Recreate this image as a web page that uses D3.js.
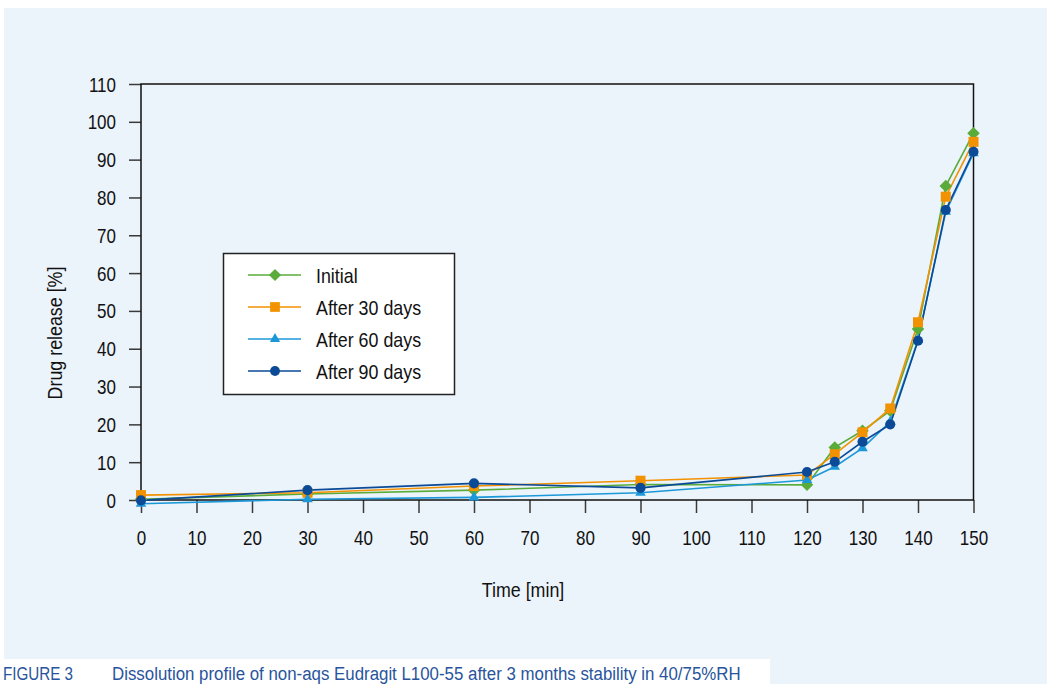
<!DOCTYPE html>
<html><head><meta charset="utf-8">
<script src="https://cdn.jsdelivr.net/npm/d3@7"></script>
<style>
body{margin:0;background:#fff}
svg{display:block}
text{font-family:"Liberation Sans",Arial,Helvetica,sans-serif;fill:#111}
</style>
</head><body>
<svg id="chart" width="1047" height="684"></svg>
<script>
// ---- data ----
const times = [0, 30, 60, 90, 120, 125, 130, 135, 140, 145, 150];
const initial = [0.2, 1.6, 2.6, 4.1, 4.0, 13.9, 18.3, 23.6, 45.2, 83.0, 97.0];
const after30 = [1.3, 1.9, 3.7, 5.1, 6.6, 12.1, 17.9, 24.2, 47.0, 80.2, 94.7];
const after60 = [-1.0, 0.2, 0.7, 1.9, 5.3, 8.8, 13.7, 20.7, 42.3, 76.2, 91.7];
const after90 = [-0.1, 2.6, 4.4, 3.2, 7.4, 10.1, 15.4, 20.0, 42.1, 76.7, 92.1];
const seriesNames = ["Initial", "After 30 days", "After 60 days", "After 90 days"];
const seriesColors = ["#5aac3a", "#f39200", "#1c98d8", "#0b4a96"];
const xTickValues = [0, 10, 20, 30, 40, 50, 60, 70, 80, 90, 100, 110, 120, 130, 140, 150];
const yTickValues = [0, 10, 20, 30, 40, 50, 60, 70, 80, 90, 100, 110];
const xTitle = "Time [min]";
const yTitle = "Drug release [%]";
const figLabel = "FIGURE 3";
const figCaption = "Dissolution profile of non-aqs Eudragit L100-55 after 3 months stability in 40/75%RH";

const seriesValues = [initial, after30, after60, after90];
const symbols = [d3.symbolSquare, d3.symbolSquare, d3.symbolTriangle, d3.symbolCircle];
const symSizes = [78, 100, 48, 80];
const symRot = [45, 0, 0, 0];

const svg = d3.select("#chart");
const S = 0.85; // horizontal condensing of the font

function condense(sel, s) {
  sel.each(function () {
    const t = d3.select(this);
    const x = +t.attr("x") || 0, y = +t.attr("y") || 0;
    t.attr("x", 0).attr("y", 0).attr("transform", `translate(${x},${y}) scale(${s},1)`);
  });
}

// background panel
const bg = "#ebf3fb";
svg.append("rect").attr("x", 0).attr("y", 0).attr("width", 1047).attr("height", 684).attr("fill", "#fff");
svg.append("rect").attr("x", 4).attr("y", 8).attr("width", 1043).attr("height", 651).attr("fill", bg);
svg.append("rect").attr("x", 770).attr("y", 650).attr("width", 277).attr("height", 34).attr("fill", bg);

const L = 141, R = 973.5, T = 84, B = 500;
const x = d3.scaleLinear().domain([0, 150]).range([L, R]);
const y = d3.scaleLinear().domain([0, 110]).range([B, T]);

// axes
const xAxis = svg.append("g").attr("transform", `translate(0,${B})`)
  .call(d3.axisBottom(x).tickValues(xTickValues).tickSize(13).tickPadding(18).tickFormat(d3.format("d")));
const yAxis = svg.append("g").attr("transform", `translate(${L},0)`)
  .call(d3.axisLeft(y).tickValues(yTickValues).tickSize(12).tickPadding(13).tickFormat(d3.format("d")));
[xAxis, yAxis].forEach(a => {
  a.select(".domain").remove();
  a.selectAll(".tick line").attr("stroke", "#3a3a3a").attr("stroke-width", 1.5);
  a.selectAll(".tick text").attr("font-size", 20).attr("fill", "#111")
    .style("font-family", '"Liberation Sans", Arial, sans-serif');
});
xAxis.selectAll(".tick text").attr("dy", "0.72em");
yAxis.selectAll(".tick text").attr("dy", "0.35em");
condense(xAxis.selectAll(".tick text"), S);
condense(yAxis.selectAll(".tick text"), S);

// frame
svg.append("rect").attr("x", L).attr("y", T).attr("width", R - L).attr("height", B - T)
  .attr("fill", "none").attr("stroke", "#111").attr("stroke-width", 1.5);

// lines and markers
const line = d3.line().x((d, i) => x(times[i])).y(d => y(d));
seriesValues.forEach((vals, k) => {
  svg.append("path").datum(vals).attr("d", line)
    .attr("fill", "none").attr("stroke", seriesColors[k]).attr("stroke-width", 1.6);
});
seriesValues.forEach((vals, k) => {
  svg.append("g").selectAll("path").data(vals).join("path")
    .attr("d", d3.symbol().type(symbols[k]).size(symSizes[k]))
    .attr("transform", (d, i) => `translate(${x(times[i])},${y(d)}) rotate(${symRot[k]})`)
    .attr("fill", seriesColors[k]);
});

// legend
const lg = svg.append("g");
lg.append("rect").attr("x", 223.5).attr("y", 253.5).attr("width", 231).attr("height", 141)
  .attr("fill", "#fff").attr("stroke", "#222").attr("stroke-width", 1.5);
const rowY = d3.scalePoint().domain(seriesNames).range([275, 371]);
seriesNames.forEach((name, k) => {
  const yy = rowY(name);
  lg.append("line").attr("x1", 248).attr("x2", 301).attr("y1", yy).attr("y2", yy)
    .attr("stroke", seriesColors[k]).attr("stroke-width", 1.6);
  lg.append("path").attr("d", d3.symbol().type(symbols[k]).size(symSizes[k] * 0.95))
    .attr("transform", `translate(275,${yy}) rotate(${symRot[k]})`).attr("fill", seriesColors[k]);
  const t = lg.append("text").attr("x", 316).attr("y", yy).attr("dy", "0.36em")
    .attr("font-size", 21).text(name);
  condense(t, S);
});

// axis titles
const xt = svg.append("text").attr("x", 523).attr("y", 597).attr("text-anchor", "middle")
  .attr("font-size", 21).text(xTitle);
condense(xt, S);
svg.append("text").attr("transform", `translate(62,333) rotate(-90) scale(${S},1)`)
  .attr("text-anchor", "middle").attr("font-size", 21).text(yTitle);

// caption
svg.append("rect").attr("x", 0).attr("y", 659).attr("width", 770).attr("height", 25).attr("fill", "#fff");
const capColor = "#28549c";
const c1 = svg.append("text").attr("x", 3).attr("y", 680).attr("font-size", 19)
  .style("fill", capColor).text(figLabel);
condense(c1, 0.8);
const c2 = svg.append("text").attr("x", 112).attr("y", 680).attr("font-size", 19)
  .style("fill", capColor).text(figCaption);
const w = c2.node().getComputedTextLength();
condense(c2, 629 / w);
</script>
</body></html>
